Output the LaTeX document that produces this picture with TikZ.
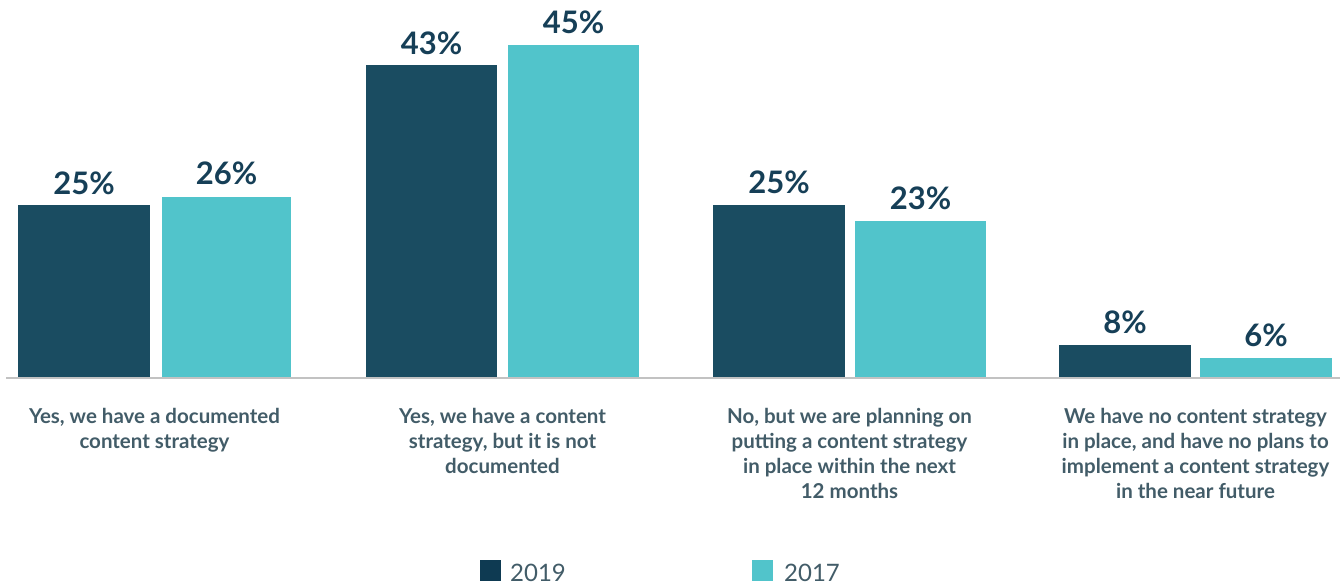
\documentclass[tikz,border=0pt]{standalone}
\usepackage{fontspec}
\setmainfont{Lato}
\usepackage{tikz}
\usepackage{xcolor}
\usetikzlibrary{positioning}

\definecolor{bardark}{HTML}{1A4C61}
\definecolor{barteal}{HTML}{51C4CB}
\definecolor{pcttext}{HTML}{163F57}
\definecolor{cattext}{HTML}{425C68}
\definecolor{axisgray}{HTML}{C2C2C2}
\definecolor{legdark}{HTML}{0E3A52}

\tikzset{
    pct/.style={anchor=base, text=pcttext, font=\fontsize{31}{31}\selectfont\bfseries, inner sep=0pt},
    cat/.style={anchor=north, text=cattext, align=center, font=\fontsize{20.5}{25}\selectfont\bfseries, inner sep=0pt},
    legtext/.style={anchor=base west, text=cattext, font=\fontsize{24}{24}\selectfont, inner sep=0pt}
}

\begin{document}
\begin{tikzpicture}[x=1pt, y=-1pt]
                        \useasboundingbox (0, 0) rectangle (1340, 584);

                        % bars, 2019 dark and 2017 teal
                        \draw[fill=bardark, draw=none] (18, 205) rectangle (150, 378);
                        \draw[fill=barteal, draw=none] (162, 197) rectangle (291, 378);
                        \draw[fill=bardark, draw=none] (366, 65) rectangle (497, 378);
                        \draw[fill=barteal, draw=none] (508, 45) rectangle (639, 378);
                        \draw[fill=bardark, draw=none] (713, 205) rectangle (845, 378);
                        \draw[fill=barteal, draw=none] (855, 221) rectangle (986, 378);
                        \draw[fill=bardark, draw=none] (1059, 345) rectangle (1191, 378);
                        \draw[fill=barteal, draw=none] (1200, 358) rectangle (1332, 378);

                        \draw[axisgray, line width=2pt] (6, 378) -- (1340, 378);

                        \node[pct] (p1a) at (84, 194) {25\%};
                        \node[pct] (p1b) at (226.5, 184) {26\%};
                        \node[pct] (p2a) at (431.5, 54) {43\%};
                        \node[pct] (p2b) at (573.5, 33) {45\%};
                        \node[pct] (p3a) at (779, 193) {25\%};
                        \node[pct] (p3b) at (920.5, 209) {23\%};
                        \node[pct] (p4a) at (1125, 333) {8\%};
                        \node[pct] (p4b) at (1266, 346) {6\%};

                        \node[cat] (c1) at (154.5, 408) {Yes, we have a documented\\content strategy};
                        \node[cat] (c2) at (502.5, 408) {Yes, we have a content\\strategy, but it is not\\documented};
                        \node[cat] (c3) at (849.5, 408) {No, but we are planning on\\putting a content strategy\\in place within the next\\12 months};
                        \node[cat] (c4) at (1195.5, 408) {We have no content strategy\\in place, and have no plans to\\implement a content strategy\\in the near future};

                        % legend
                        \draw[fill=legdark, draw=none] (480, 560) rectangle (501, 581);
                        \node[legtext] (l2019) at (510, 581) {2019};
                        \draw[fill=barteal, draw=none] (752, 560) rectangle (773, 581);
                        \node[legtext] (l2017) at (784, 581) {2017};
                    \end{tikzpicture}
\end{document}
